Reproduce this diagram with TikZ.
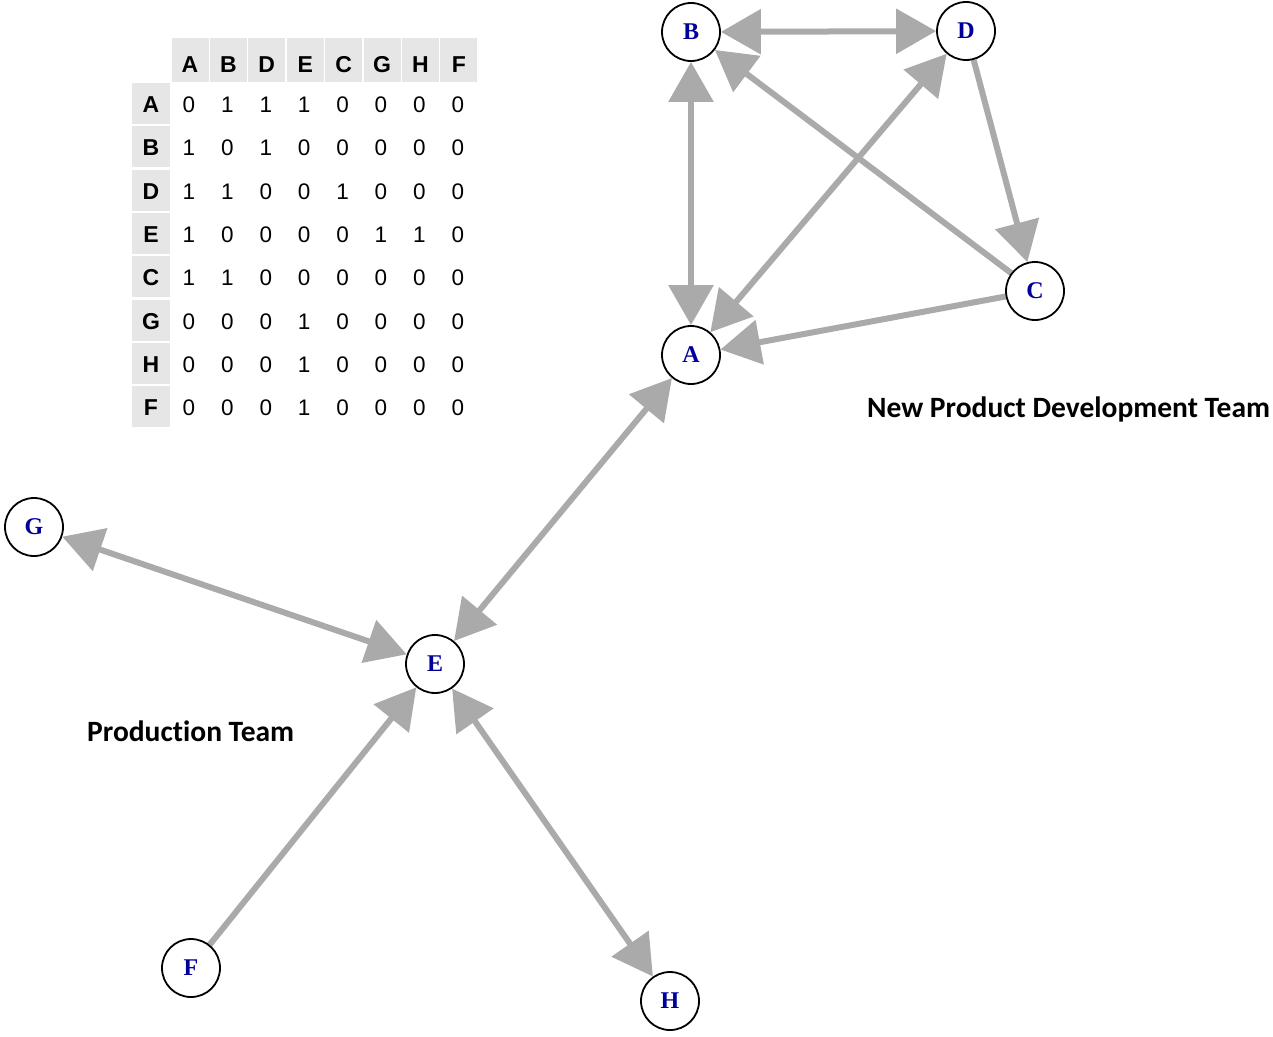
\documentclass[tikz,border=0pt]{standalone}
\usepackage{fontspec}
\setmainfont{Liberation Serif}
\newfontfamily\arialf{Liberation Sans}
\newfontfamily\calib[Ligatures=NoCommon]{Carlito}
\usetikzlibrary{arrows.meta,backgrounds}
\definecolor{edgegray}{RGB}{170,170,170}
\definecolor{cellgray}{RGB}{230,230,230}
\definecolor{navyblue}{RGB}{0,0,153}
\begin{document}
\begin{tikzpicture}[x=1pt,y=-1pt,
  >={Triangle[length=40pt,width=44pt]},
  vert/.style={circle,draw=black,line width=1.8pt,fill=white,minimum size=58pt,inner sep=0pt,
    font=\fontsize{24}{24}\selectfont\bfseries,text=navyblue},
  link/.style={draw=edgegray,line width=6pt},
  hdr/.style={anchor=base,inner sep=0pt,font=\arialf\fontsize{23}{23}\selectfont\bfseries},
  dig/.style={anchor=base,inner sep=0pt,font=\arialf\fontsize{22.5}{22.5}\selectfont},
  cell/.style={fill=cellgray},
  team/.style={anchor=base west,inner sep=0pt,font=\calib\fontsize{29.5}{29.5}\selectfont\bfseries}]
\useasboundingbox (0,0) rectangle (1273,1036);

% adjacency matrix
\foreach \l [count=\i] in {A,B,D,E,C,G,H,F} {
  \path[cell] ({171.5+(\i-1)*38.4},38) rectangle ++(37,44);
  \node[hdr] (col\i) at ({190+(\i-1)*38.4},72) {\l};
  \path[cell] (132,{83+(\i-1)*43.3}) rectangle ++(38,41);
  \node[hdr] (row\i) at (151,{112.5+(\i-1)*43.3}) {\l};
}
\foreach \rowvals [count=\r] in {{0,1,1,1,0,0,0,0},{1,0,1,0,0,0,0,0},{1,1,0,0,1,0,0,0},{1,0,0,0,0,1,1,0},{1,1,0,0,0,0,0,0},{0,0,0,1,0,0,0,0},{0,0,0,1,0,0,0,0},{0,0,0,1,0,0,0,0}} {
  \foreach \v [count=\c] in \rowvals {
    \node[dig] (m\r-\c) at ({189+(\c-1)*38.4},{112.5+(\r-1)*43.3}) {\v};
  }
}

% graph nodes
\node[vert] (B) at (691,32) {B};
\node[vert] (D) at (966,31) {D};
\node[vert] (C) at (1035,291) {C};
\node[vert] (A) at (691,355) {A};
\node[vert] (G) at (34,527) {G};
\node[vert] (E) at (435,664) {E};
\node[vert] (F) at (191,968) {F};
\node[vert] (H) at (670,1001) {H};

\begin{scope}[on background layer]
\draw[link,<->] (B) -- (D);
\draw[link,<->] (B) -- (A);
\draw[link,->] (C) -- (B);
\draw[link,->] (D) -- (C);
\draw[link,<->] (A) -- (D);
\draw[link,->] (C) -- (A);
\draw[link,<->] (A) -- (E);
\draw[link,<->] (G) -- (E);
\draw[link,->] (F) -- (E);
\draw[link,<->] (E) -- (H);
\end{scope}

\node[team] (npd) at (867,417) {New Product Development Team};
\node[team] (prod) at (87,741) {Production Team};
\end{tikzpicture}
\end{document}
